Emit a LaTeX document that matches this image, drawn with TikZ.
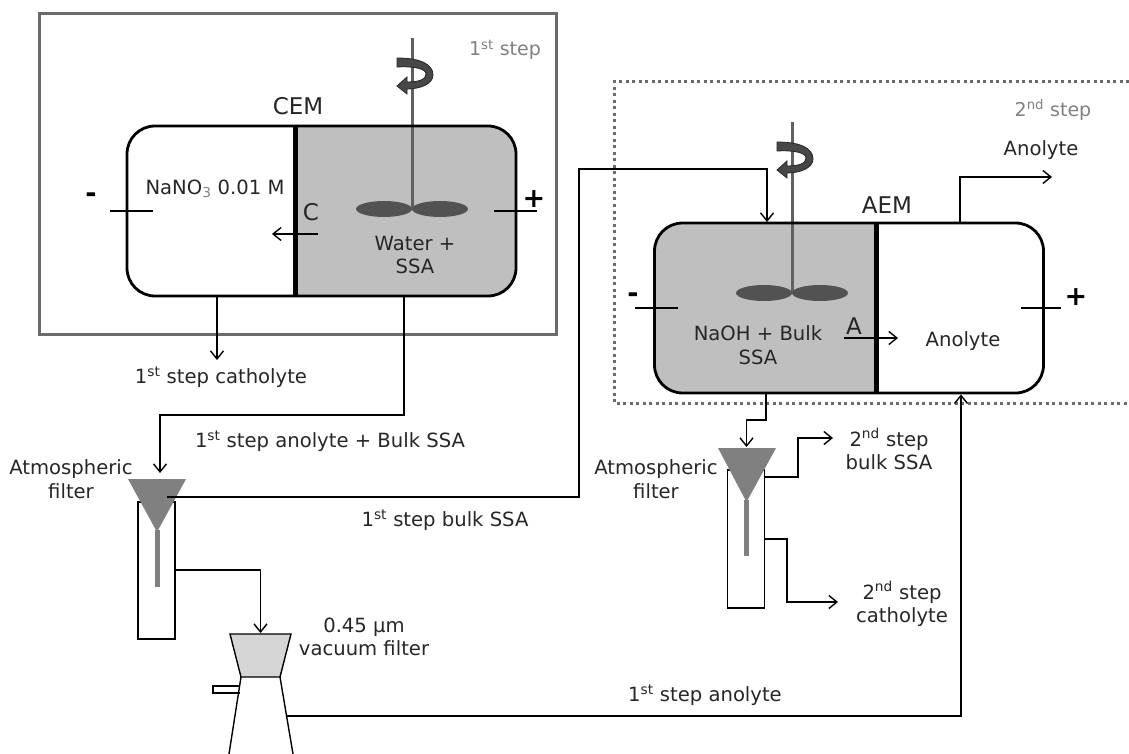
\documentclass[tikz,border=0pt]{standalone}
\usepackage{fontspec}
\setmainfont{DejaVu Sans}
\usetikzlibrary{arrows.meta}
\definecolor{cellgray}{gray}{0.75}
\definecolor{funnelgray}{gray}{0.5}
\definecolor{framegray}{gray}{0.42}
\definecolor{inkgray}{gray}{0.15}
\tikzset{
  label text/.style={text=inkgray,font=\fontsize{19.6}{23.5}\selectfont,align=center,inner sep=0pt},
  step text/.style={text=gray,font=\fontsize{19}{23}\selectfont,inner sep=0pt},
  big text/.style={text=inkgray,font=\fontsize{23}{25}\selectfont,inner sep=0pt},
  sign text/.style={text=black,font=\fontsize{27}{27}\bfseries\selectfont,inner sep=0pt},
  cell/.style={draw,line width=2.8pt,rounded corners=28pt,minimum width=389pt,minimum height=170pt,inner sep=0pt},
  tube/.style={draw,line width=1.4pt,minimum width=37pt,inner sep=0pt},
  flow/.style={line width=1.4pt},
  rotor/.pic={
    \draw[line width=3pt,black!62] (0,-171) -- (0,0);
    \fill[black!68] (-28,0) ellipse (28 and 8) (28,0) ellipse (28 and 8);
    \filldraw[fill=black!72,draw=black!85,line width=.8pt] (-15,-151) .. controls (8,-151) and (21,-145) .. (21,-134)
      .. controls (21,-125) and (8,-120) .. (-5,-120) -- (-5,-115) -- (-15,-123) -- (-5,-132) -- (-5,-127)
      .. controls (8,-127) and (14,-130) .. (14,-135) .. controls (14,-140) and (3,-143) .. (-15,-142) -- cycle;
  }
}

\begin{document}
\begin{tikzpicture}[>={Straight Barb[length=8pt,width=13pt]},x=1pt,y=-1pt]
\useasboundingbox (0,0) rectangle (1129,754);

% define the frames of the two steps
  \draw[line width=3pt,framegray] (39,14) rectangle (556,334);
  \draw[line width=3pt,dash pattern=on 3pt off 3.5pt,framegray] (1129,82) -- (614,82) -- (614,403) -- (1129,403);

% define the two cells
  \fill[cellgray] (295,126) [rounded corners=28pt] -- (516,126) -- (516,296) [sharp corners] -- (295,296) -- cycle;
  \fill[cellgray] (876,223) [rounded corners=28pt] -- (655,223) -- (655,393) [sharp corners] -- (876,393) -- cycle;
  \pic at (412,209) {rotor};
  \pic at (792,293) {rotor};
  \node[cell] (cellA) at (321.5,211) {};
  \node[cell] (cellB) at (849,308) {};
  \coordinate (memA) at (295,211);
  \coordinate (memB) at (876,308);
  \draw[line width=5pt] (cellA.north -| memA) -- (cellA.south -| memA);
  \draw[line width=5pt] (cellB.north -| memB) -- (cellB.south -| memB);

% define the electrodes
  \coordinate (elecA1) at (110,211);
  \coordinate (elecA2) at (153,211);
  \coordinate (elecA3) at (494,211);
  \coordinate (elecA4) at (537,211);
  \coordinate (elecB1) at (635,308);
  \coordinate (elecB2) at (678,308);
  \coordinate (elecB3) at (1021,308);
  \coordinate (elecB4) at (1061,308);
  \draw[flow] (elecA1) -- (elecA2) (elecA3) -- (elecA4) (elecB1) -- (elecB2) (elecB3) -- (elecB4);

% define the filters
  \node[tube,minimum height=137pt] (tubeA) at (156.5,570.5) {};
  \node[tube,minimum height=138pt] (tubeB) at (746,539) {};
  \fill[funnelgray] (157,530) ++(-2.5,0) rectangle (159.5,587);
  \fill[funnelgray] (746.5,500) ++(-2.5,0) rectangle (749,556);
  \fill[funnelgray] (128,479) -- (186,479) -- (157,532) -- cycle;
  \fill[funnelgray] (718,448) -- (776,448) -- (746.5,502) -- cycle;
  \coordinate (funnelA) at (157,478);
  \coordinate (funnelB) at (746.5,447);
  \coordinate (funnelC) at (260.5,633);
  \filldraw[fill=black!16,line width=1.4pt] (230,634) -- (291,634) -- (280,677) -- (241,677) -- cycle;
  \draw[line width=1.4pt] (241,677) -- (229,754) (280,677) -- (293,754);
  \draw[line width=1.4pt] (240,686) -- (213,686) -- (213,693) -- (240,693);
  \coordinate (flask) at (287,716);

% define the labels
  \node[label text] (naLabel) at (215,189) {NaNO\textsubscript{\textcolor{gray}{3}} 0.01 M};
  \node[label text] (waterLabel) at (415,255) {Water +\\SSA};
  \node[label text] (naohLabel) at (758,345) {NaOH + Bulk\\SSA};
  \node[label text] (anoLabel) at (963,341) {Anolyte};
  \node[label text] (outLabel) at (1041,150) {Anolyte};
  \node[big text] (cemLabel) at (298,106) {CEM};
  \node[big text] (aemLabel) at (887,205) {AEM};
  \node[big text] (cLabel) at (311,212) {C};
  \node[big text] (aLabel) at (854,326) {A};
  \node[sign text] (minusA) at (91,198) {-};
  \node[sign text] (plusA) at (534,199) {+};
  \node[sign text] (minusB) at (633,298) {-};
  \node[sign text] (plusB) at (1076,297) {+};
  \node[step text] (stepA) at (505,50) {1\textsuperscript{st} step};
  \node[step text] (stepB) at (1053,110) {2\textsuperscript{nd} step};
  \node[label text] (cathA) at (221,377) {1\textsuperscript{st} step catholyte};
  \node[label text] (anoBulk) at (330,441) {1\textsuperscript{st} step anolyte + Bulk SSA};
  \node[label text] (bulkA) at (445,520) {1\textsuperscript{st} step bulk SSA};
  \node[label text] (atmA) at (71,479) {Atmospheric\\filter};
  \node[label text] (atmB) at (656,479) {Atmospheric\\filter};
  \node[label text] (bulkB) at (889,449) {2\textsuperscript{nd} step\\bulk SSA};
  \node[label text] (cathB) at (902,604) {2\textsuperscript{nd} step\\catholyte};
  \node[label text] (vacLabel) at (364,637) {0.45 µm\\vacuum filter};
  \node[label text] (anoA) at (705,695) {1\textsuperscript{st} step anolyte};

% define the links
  \coordinate (arrC) at (272,234);
  \coordinate (arrC2) at (318,234);
  \coordinate (arrA) at (898,338);
  \coordinate (arrA2) at (844,338);
  \coordinate (cathEnd) at (217,360);
  \coordinate (outEnd) at (1052,177);
  \coordinate (bulkEnd) at (833,438);
  \coordinate (cathbEnd) at (838,602);
  \draw[flow,->] (arrC2) -- (arrC);
  \draw[flow,->] (arrA2) -- (arrA);
  \draw[flow,->] (cellA.south -| cathEnd) -- (cathEnd);
  \draw[flow,->] (404,296) -- (404,415) -- (160,415) -- (160,473);
  \draw[flow,->] (167,497) -- (579,497) -- (579,169) -- (767,169) -- (767,222);
  \draw[flow,->] (tubeA.east |- 0,570) -| (funnelC);
  \draw[flow,->] (flask) -| (cellB.south -| 961,0);
  \draw[flow,->] (cellB.north -| 960,0) -- (960,177) -- (outEnd);
  \draw[flow,->] (766,393) -- (766,420) -- (746.5,420) -- (funnelB);
  \draw[flow,->] (tubeB.east |- 0,477) -- (798,477) -- (798,438) -- (bulkEnd);
  \draw[flow,->] (tubeB.east |- 0,539) -- (787,539) -- (787,602) -- (cathbEnd);
\end{tikzpicture}
\end{document}
